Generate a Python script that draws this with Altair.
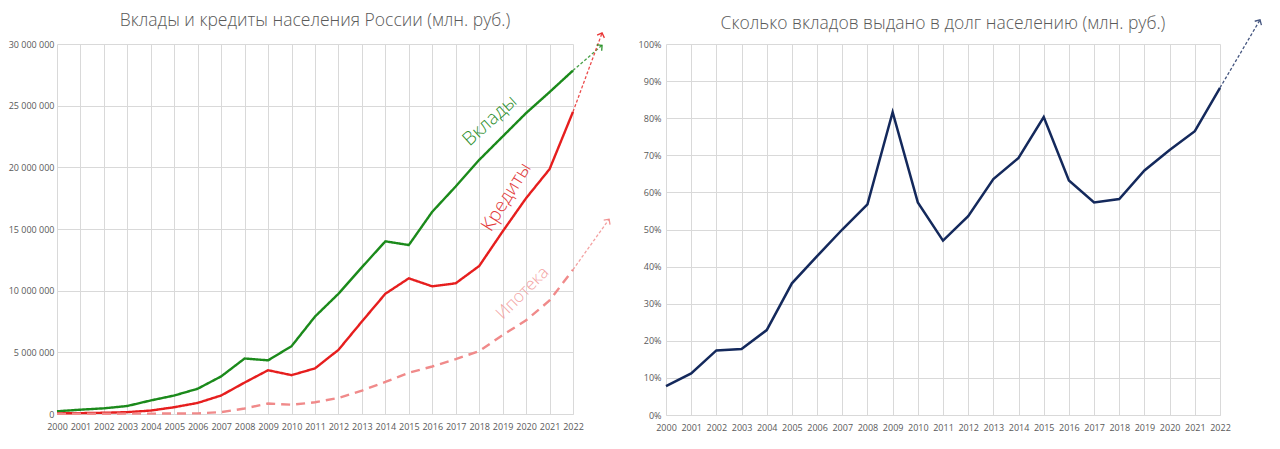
import math
import altair as alt
import pandas as pd

years = list(range(2000, 2023))

deposits = [0.22, 0.35, 0.46, 0.65, 1.1, 1.5, 2.05, 3.05, 4.5, 4.35, 5.5, 7.9, 9.75,
            11.9, 14.0, 13.7, 16.4, 18.45, 20.6, 22.5, 24.4, 26.1, 27.85]
credits = [0.05, 0.07, 0.1, 0.15, 0.28, 0.55, 0.9, 1.5, 2.55, 3.55, 3.15, 3.7, 5.2,
           7.5, 9.75, 11.0, 10.35, 10.6, 12.0, 14.8, 17.5, 19.85, 24.5]
mortgage = [0.01, 0.02, 0.02, 0.03, 0.03, 0.04, 0.05, 0.15, 0.45, 0.85, 0.75, 0.95, 1.3,
            1.9, 2.6, 3.35, 3.85, 4.45, 5.1, 6.4, 7.6, 9.2, 11.7]
ratio = [7.8, 11.2, 17.4, 17.8, 22.9, 35.5, 42.8, 50.0, 56.8, 81.6, 57.3, 47.0, 53.6,
         63.6, 69.3, 80.3, 63.2, 57.3, 58.2, 65.9, 71.4, 76.5, 88.2]

series_names = ["Вклады", "Кредиты", "Ипотека"]
series_colors = ["#1b8a1b", "#e61e1e", "#f08a8a"]

# trend arrows: end of each dashed arrow (year, value in mln)
arrow_end_year = [2023.24, 2023.24, 2023.54]
arrow_end_val = [29.9, 30.9, 15.8]
ratio_arrow_end_year = 2023.59
ratio_arrow_end_val = 106.5

# rotated series labels (year, value in mln, angle)
label_year = [2018.45, 2019.15, 2019.85]
label_val = [23.8, 17.6, 9.8]
label_angle = [318, 302, 315]
label_colors = ["#2e8f2e", "#e23a3a", "#f3a3a3"]
label_size = [19, 19, 17]

LW, LH = 516, 370
RW, RH = 554, 371
FONT = "Open Sans"
GRID = "#d9d9d9"
TXT = "#595959"

rows = []
for name, vals in zip(series_names, [deposits, credits, mortgage]):
    for y, v in zip(years, vals):
        rows.append({"year": y, "value": v * 1e6, "series": name})
df = pd.DataFrame(rows)

last_vals = [deposits[-1], credits[-1], mortgage[-1]]
arrows = []
for name, c, ey, ev, sv in zip(series_names, series_colors, arrow_end_year, arrow_end_val, last_vals):
    dx = (ey - 2022) * LW / 22
    dy = (ev - sv) * LH / 30
    arrows.append({"series": name, "x": 2022, "y": sv * 1e6, "x2": ey, "y2": ev * 1e6,
                   "angle": math.degrees(math.atan2(dx, dy))})
arr_df = pd.DataFrame(arrows)

lab_df = pd.DataFrame({"series": series_names, "year": label_year,
                       "value": [v * 1e6 for v in label_val], "angle": label_angle,
                       "size": label_size})

color_scale = alt.Scale(domain=series_names, range=series_colors)
xs_left = alt.Scale(domain=[2000, 2022], nice=False, zero=False)
ys_left = alt.Scale(domain=[0, 30e6], nice=False)

x_axis = alt.Axis(values=years, format="d", title=None, grid=True, gridColor=GRID,
                  ticks=False, domainColor=GRID, labelColor=TXT, labelFontSize=9,
                  labelFont=FONT, labelPadding=8, labelFlush=False, labelOverlap=False)

y_axis_left = alt.Axis(values=[0, 5e6, 10e6, 15e6, 20e6, 25e6, 30e6], title=None,
                       grid=True, gridColor=GRID, ticks=False, domain=False,
                       labelColor=TXT, labelFontSize=9, labelFont=FONT, labelPadding=3,
                       labelOverlap=False,
                       labelExpr="replace(format(datum.value, ','), regexp(',', 'g'), ' ')")


def LX(f):
    return alt.X(f, type="quantitative", scale=xs_left, axis=x_axis)


def LY(f):
    return alt.Y(f, type="quantitative", scale=ys_left, axis=y_axis_left)


lines = alt.Chart(df).mark_line(strokeWidth=2.4).encode(
    x=LX("year"),
    y=LY("value"),
    color=alt.Color("series:N", scale=color_scale, legend=None),
    strokeDash=alt.StrokeDash("series:N", scale=alt.Scale(domain=series_names,
                              range=[[1, 0], [1, 0], [9, 6]]), legend=None),
    strokeWidth=alt.StrokeWidth("series:N", scale=alt.Scale(domain=series_names,
                                range=[2.4, 2.4, 3]), legend=None),
    opacity=alt.Opacity("series:N", scale=alt.Scale(domain=series_names,
                        range=[1, 1, 0.85]), legend=None),
)

arrow_lines = alt.Chart(arr_df).mark_rule(strokeWidth=1.3, strokeDash=[3, 2], opacity=0.8).encode(
    x=LX("x"), y=LY("y"), x2="x2:Q", y2="y2:Q",
    color=alt.Color("series:N", scale=color_scale, legend=None),
)
arrow_heads = alt.Chart(arr_df).mark_point(
    shape="M -1 1 L 0 0 L 1 1", filled=False, size=60, strokeWidth=1.3, opacity=0.9
).encode(
    x=LX("x2"), y=LY("y2"),
    color=alt.Color("series:N", scale=color_scale, legend=None),
    angle=alt.Angle("angle:Q", scale=None),
)
labels = alt.Chart(lab_df).mark_text(font=FONT, fontWeight=300).encode(
    x=LX("year"), y=LY("value"), text="series:N",
    angle=alt.Angle("angle:Q", scale=None),
    size=alt.Size("size:Q", scale=None, legend=None),
    color=alt.Color("series:N", scale=alt.Scale(domain=series_names, range=label_colors), legend=None),
)

left = alt.layer(lines, arrow_lines, arrow_heads, labels).resolve_scale(color="independent").properties(
    width=LW, height=LH,
    title=alt.Title("Вклады и кредиты населения России (млн. руб.)", fontSize=17.5,
                    font=FONT, fontWeight=300, color=TXT, offset=1, frame="group"),
)

rdf = pd.DataFrame({"year": years, "ratio": [r / 100 for r in ratio]})
rarr = pd.DataFrame({"x": [2022], "y": [ratio[-1] / 100], "x2": [ratio_arrow_end_year],
                     "y2": [ratio_arrow_end_val / 100]})
rdx = (ratio_arrow_end_year - 2022) * RW / 22
rdy = (ratio_arrow_end_val - ratio[-1]) * RH / 100
rarr["angle"] = math.degrees(math.atan2(rdx, rdy))

xs_right = alt.Scale(domain=[2000, 2022], nice=False, zero=False)
ys_right = alt.Scale(domain=[0, 1], nice=False)
y_axis_right = alt.Axis(values=[i / 10 for i in range(11)], format=".0%", title=None,
                        grid=True, gridColor=GRID, ticks=False, domain=False,
                        labelColor=TXT, labelFontSize=9, labelFont=FONT, labelPadding=5,
                        labelOverlap=False)


def RX(f):
    return alt.X(f, type="quantitative", scale=xs_right, axis=x_axis)


def RY(f):
    return alt.Y(f, type="quantitative", scale=ys_right, axis=y_axis_right)


NAVY = "#14295c"
rline = alt.Chart(rdf).mark_line(strokeWidth=2.5, color=NAVY).encode(
    x=RX("year"), y=RY("ratio"),
)
rarrow = alt.Chart(rarr).mark_rule(strokeWidth=1.3, strokeDash=[3, 2], color="#44557f").encode(
    x=RX("x"), y=RY("y"), x2="x2:Q", y2="y2:Q")
rhead = alt.Chart(rarr).mark_point(shape="M -1 1 L 0 0 L 1 1", filled=False, size=60,
                                   strokeWidth=1.3, color="#44557f", opacity=1).encode(
    x=RX("x2"), y=RY("y2"), angle=alt.Angle("angle:Q", scale=None))

right = alt.layer(rline, rarrow, rhead).properties(
    width=RW, height=RH,
    title=alt.Title("Сколько вкладов выдано в долг населению (млн. руб.)", fontSize=17.5,
                    font=FONT, fontWeight=300, color=TXT, offset=-15, frame="group"),
)

chart = alt.hconcat(left, right, spacing=25).properties(
    padding={"left": 0, "top": 3, "right": 5, "bottom": 0}
).configure_view(stroke=None)

chart.save("out.html", embed_options={"renderer": "svg", "actions": False})
